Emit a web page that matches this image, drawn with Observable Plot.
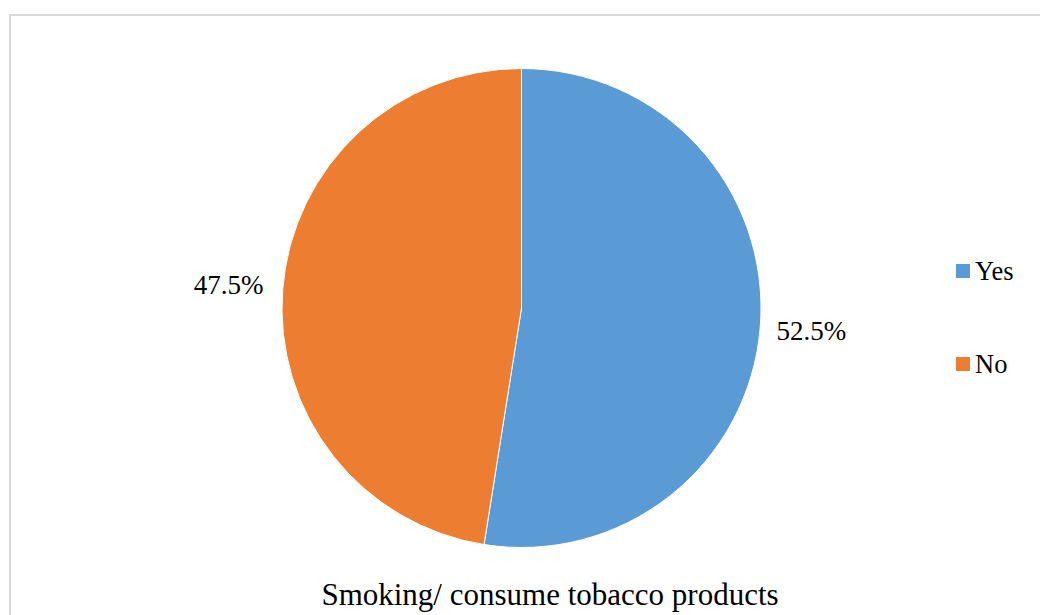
<!DOCTYPE html>
<html>
<head>
<meta charset="utf-8">
<script src="https://cdn.jsdelivr.net/npm/d3@7"></script>
<script src="https://cdn.jsdelivr.net/npm/@observablehq/plot@0.6"></script>
<style>
  html, body { margin: 0; padding: 0; background: #fff; overflow: hidden; width: 1040px; height: 615px; }
  #wrap { position: relative; width: 1040px; height: 615px; font-family: "Liberation Serif", "Times New Roman", serif; }
  #frame { position: absolute; left: 9px; top: 14px; width: 1100px; height: 700px; border: 2px solid #d9d9d9; box-sizing: border-box; }
  #chart { position: absolute; left: 0; top: 0; }
  #overlay { position: absolute; left: 0; top: 0; }
  svg, svg text { font-family: "Liberation Serif", "Times New Roman", serif !important; }
</style>
</head>
<body>
<div id="wrap"><div id="frame"></div><div id="chart"></div><svg id="overlay" width="1040" height="615"></svg></div>
<script>
const categories = ["Yes", "No"];
const values = [52.5, 47.5];
const labels = ["52.5%", "47.5%"];
const colors = ["#5B9BD5", "#ED7D31"];
const title = "Smoking/ consume tobacco products";

const W = 1040, H = 615;
const cx = 521.5, cy = 308, R = 239.5;
const labelRadius = 1.22;
const serif = "'Liberation Serif', 'Times New Roman', serif";

const data = categories.map((c, i) => ({category: c, value: values[i], label: labels[i], color: colors[i]}));
const arcs = d3.pie().sort(null).value(d => d.value)(data);
const labelData = arcs.map(a => {
  const mid = (a.startAngle + a.endAngle) / 2;
  return {label: a.data.label, x: labelRadius * Math.sin(mid), y: labelRadius * Math.cos(mid)};
});

const pieMark = (index, scales) => {
  const x0 = scales.x(0), y0 = scales.y(0);
  const r = scales.x(1) - scales.x(0);
  const arcGen = d3.arc().innerRadius(0).outerRadius(r);
  const g = d3.create("svg:g").attr("transform", `translate(${x0},${y0})`);
  g.selectAll("path").data(arcs).join("path")
    .attr("d", arcGen)
    .attr("fill", d => d.data.color)
    .attr("stroke", "#ffffff")
    .attr("stroke-width", 1);
  return g.node();
};

const plot = Plot.plot({
  width: W, height: H,
  margin: 0,
  x: {domain: [-1, 1], range: [cx - R, cx + R], axis: null},
  y: {domain: [-1, 1], range: [cy + R, cy - R], axis: null},
  style: {background: "transparent", overflow: "visible", fontFamily: serif},
  marks: [
    pieMark,
    Plot.text(labelData, {x: "x", y: "y", text: "label", fontSize: 27, fill: "#000", fontFamily: serif, textAnchor: "middle", lineAnchor: "middle", dx: -2})
  ]
});
document.getElementById("chart").appendChild(plot);

// Legend and title
const ov = d3.select("#overlay");
const legendY = [280, 373];
categories.forEach((c, i) => {
  ov.append("rect").attr("x", 956).attr("y", legendY[i] - 16).attr("width", 14).attr("height", 14).attr("fill", colors[i]);
  ov.append("text").attr("x", 975).attr("y", legendY[i]).attr("font-size", 26.5).attr("font-family", serif).style("font-family", serif).attr("fill", "#000").text(c);
});
ov.append("text").attr("x", 550).attr("y", 605).attr("text-anchor", "middle").attr("font-size", 31).attr("font-family", serif).style("font-family", serif).attr("fill", "#000").text(title);
</script>
</body>
</html>
